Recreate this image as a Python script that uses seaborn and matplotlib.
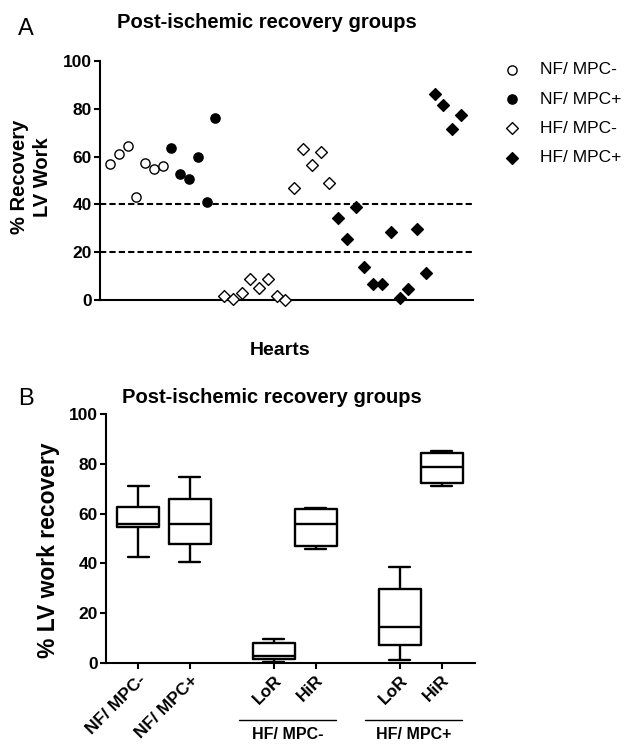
import numpy as np
import pandas as pd
import matplotlib
matplotlib.use("Agg")
import matplotlib.pyplot as plt
import seaborn as sns

# ---------------- Data ----------------
# Panel A: % recovery of LV work per heart, in plotting order
group_names = ["NF/ MPC-", "NF/ MPC+", "HF/ MPC-", "HF/ MPC+"]
nf_minus = [56.8, 61.0, 64.4, 43.1, 57.5, 55.0, 56.0]
nf_plus = [63.7, 52.8, 50.6, 59.9, 41.0, 76.2]
hf_minus = [1.5, 0.5, 3.0, 8.7, 5.1, 8.7, 1.5, 0.2, 46.7, 63.0, 56.4, 62.0, 49.1]
hf_plus = [34.4, 25.7, 39.0, 13.9, 6.8, 6.8, 28.6, 0.7, 4.4, 29.7, 11.3,
           86.0, 81.5, 71.5, 77.5]
thresholds = [40, 20]

box_labels = ["NF/ MPC-", "NF/ MPC+", "LoR", "HiR", "LoR", "HiR"]
box_nf_minus = [42.7, 54.5, 55.8, 62.5, 71.1]
box_nf_plus = [40.7, 47.7, 55.8, 65.8, 74.9]
box_hf_minus_lor = [0.2, 1.4, 2.7, 8.1, 9.4]
box_hf_minus_hir = [45.6, 47.0, 55.8, 61.7, 62.2]
box_hf_plus_lor = [1.0, 7.1, 14.2, 29.5, 38.7]
box_hf_plus_hir = [71.1, 72.5, 78.9, 84.5, 85.3]
bracket_labels = ["HF/ MPC-", "HF/ MPC+"]

# ---------------- Style ----------------
sns.set_theme(style="ticks")
plt.rcParams["font.family"] = ["Liberation Sans", "DejaVu Sans"]
plt.rcParams.update({
    "axes.linewidth": 1.5,
    "text.color": "black",
    "axes.labelcolor": "black",
    "axes.edgecolor": "black",
    "xtick.color": "black",
    "ytick.color": "black",
})

W, H = 636, 744
fig = plt.figure(figsize=(W / 100, H / 100), dpi=100)


def fx(px):
    return px / W


def fy(py):
    return 1 - py / H


# ---------------- Panel A ----------------
axA = fig.add_axes([fx(100), fy(300), fx(473) - fx(100), fy(61) - fy(300)])
series = [nf_minus, nf_plus, hf_minus, hf_plus]
rows = []
idx = 0
for g, vals in zip(group_names, series):
    for v in vals:
        rows.append({"group": g, "heart": idx, "value": v})
        idx += 1
dfA = pd.DataFrame(rows)

styles = {
    "NF/ MPC-": ("o", "white", 44),
    "NF/ MPC+": ("o", "black", 44),
    "HF/ MPC-": ("D", "white", 36),
    "HF/ MPC+": ("D", "black", 36),
}
for g in group_names:
    m, fc, s = styles[g]
    sub = dfA[dfA["group"] == g]
    sns.scatterplot(data=sub, x="heart", y="value", marker=m, color=fc,
                    edgecolor="black", linewidth=1.0, s=s, ax=axA, label=g,
                    clip_on=False, zorder=3)

for t in thresholds:
    axA.axhline(t, color="black", lw=1.5, ls=(0, (3, 1.5)), zorder=1)

axA.set_xlim(-1.14, 41.37)
axA.set_ylim(0, 100)
axA.set_yticks([0, 20, 40, 60, 80, 100])
axA.set_xticks([])
axA.set_xlabel("")
axA.set_ylabel("")
for sp in ["top", "right"]:
    axA.spines[sp].set_visible(False)
axA.tick_params(axis="y", length=4, width=1.5, pad=2, labelsize=12.5)
for lab in axA.get_yticklabels():
    lab.set_fontweight("bold")

leg = axA.legend(loc="upper left", bbox_to_anchor=(fx(495), fy(62)),
                 bbox_transform=fig.transFigure, frameon=False, fontsize=12.5,
                 handletextpad=0.6, labelspacing=0.82, borderpad=0,
                 borderaxespad=0)

fig.text(fx(18), fy(35), "A", fontsize=17, va="baseline", ha="left")
fig.text(fx(117), fy(28), "Post-ischemic recovery groups", fontsize=14.5,
         fontweight="bold", va="baseline", ha="left")
fig.text(fx(31), fy(177), "% Recovery\nLV Work", fontsize=14.5,
         fontweight="bold", rotation=90, ha="center", va="center",
         multialignment="center", linespacing=1.3)
fig.text(fx(280.5), fy(355), "Hearts", fontsize=14, fontweight="bold",
         ha="center", va="baseline")

# ---------------- Panel B ----------------
axB = fig.add_axes([fx(106), fy(662.7), fx(475) - fx(106), fy(414.3) - fy(662.7)])
positions = [0.0, 1.23, 3.23, 4.23, 6.23, 7.23]
boxes = [box_nf_minus, box_nf_plus, box_hf_minus_lor, box_hf_minus_hir,
         box_hf_plus_lor, box_hf_plus_hir]
rowsB = []
for p, vals in zip(positions, boxes):
    for v in vals:
        rowsB.append({"pos": p, "value": v})
dfB = pd.DataFrame(rowsB)

sns.boxplot(data=dfB, x="pos", y="value", native_scale=True, fill=False,
            color="black", linecolor="black", linewidth=1.7, whis=(0, 100),
            width=1.0, ax=axB, showfliers=False)

axB.set_xlim(-0.77, 8.02)
axB.set_ylim(0, 100)
axB.set_yticks([0, 20, 40, 60, 80, 100])
axB.set_xticks(positions)
axB.set_xticklabels(box_labels, rotation=45, ha="right",
                    rotation_mode="anchor", fontweight="bold", fontsize=12.5)
axB.set_xlabel("")
axB.set_ylabel("")
for sp in ["top", "right"]:
    axB.spines[sp].set_visible(False)
axB.tick_params(axis="y", length=4, width=1.5, pad=2, labelsize=12.5)
axB.tick_params(axis="x", length=4, width=1.5, pad=3)
for lab in axB.get_yticklabels():
    lab.set_fontweight("bold")

trans = axB.get_xaxis_transform()
for k, lab in enumerate(bracket_labels):
    lo = positions[2 + 2 * k] - 0.83
    hi = positions[3 + 2 * k] + 0.48
    axB.plot([lo, hi], [-0.2307, -0.2307], color="black", lw=1.0,
             transform=trans, clip_on=False)
    axB.text((lo + hi) / 2, -0.291, lab, transform=trans, ha="center",
             va="center", fontsize=11.5, fontweight="bold")

fig.text(fx(18), fy(405), "B", fontsize=17, va="baseline", ha="left")
fig.text(fx(121.7), fy(403), "Post-ischemic recovery groups", fontsize=14.5,
         fontweight="bold", va="baseline", ha="left")
fig.text(fx(48.5), fy(550), "% LV work recovery", fontsize=16.5,
         fontweight="bold", rotation=90, ha="center", va="center")

fig.savefig("out.png", dpi=100)
